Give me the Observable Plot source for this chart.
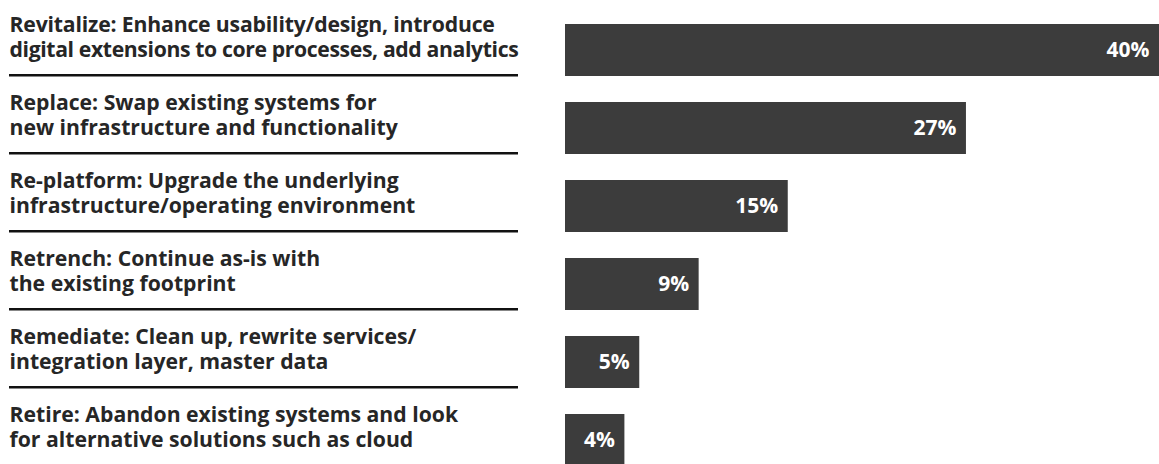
<!DOCTYPE html>
<html>
<head>
<meta charset="utf-8">
<script src="https://cdn.jsdelivr.net/npm/d3@7"></script>
<script src="https://cdn.jsdelivr.net/npm/@observablehq/plot@0.6"></script>
<style>
  html, body { margin: 0; padding: 0; background: #fff; overflow: hidden; }
  svg { display: block; }
</style>
</head>
<body>
<div id="chart"></div>
<script>
const categories = ["Revitalize", "Replace", "Re-platform", "Retrench", "Remediate", "Retire"];
const labels = [
  "Revitalize: Enhance usability/design, introduce\ndigital extensions to core processes, add analytics",
  "Replace: Swap existing systems for\nnew infrastructure and functionality",
  "Re-platform: Upgrade the underlying\ninfrastructure/operating environment",
  "Retrench: Continue as-is with\nthe existing footprint",
  "Remediate: Clean up, rewrite services/\nintegration layer, master data",
  "Retire: Abandon existing systems and look\nfor alternative solutions such as cloud"
];
const values = [40, 27, 15, 9, 5, 4];

const data = categories.map((c, i) => ({cat: c, label: labels[i], value: values[i]}));
const separators = categories.slice(0, -1);

const font = "'Open Sans', sans-serif";

const chart = Plot.plot({
  width: 1159,
  height: 468,
  marginLeft: 0,
  marginRight: 0,
  marginTop: 21,
  marginBottom: 0,
  style: {fontFamily: font, background: "#fff"},
  x: {domain: [0, 40], range: [565, 1159], axis: null},
  y: {domain: categories, paddingInner: 0.334, paddingOuter: 0, axis: null},
  marks: [
    Plot.barX(data, {y: "cat", x: "value", fill: "#3c3c3c"}),
    Plot.text(data, {
      y: "cat", x: "value", text: d => d.value + "%",
      textAnchor: "end", dx: -10, fill: "#ffffff",
      fontSize: 21, fontWeight: 700
    }),
    Plot.text(data, {
      y: "cat", text: "label", frameAnchor: "left", textAnchor: "start",
      dx: 9, dy: -13.6, lineHeight: 1.18,
      fill: "#262626", fontSize: 21.2, fontWeight: 700
    }),
    Plot.ruleY(separators, {
      y: d => d, dy: 24.7, stroke: "#111", strokeWidth: 2.6,
      insetLeft: 9, insetRight: 641
    })
  ]
});
document.getElementById("chart").appendChild(chart);

// the first label is set slightly tighter in the reference
d3.select(chart).selectAll("text").each(function () {
  if (this.textContent.startsWith("Revitalize:")) {
    const spans = this.querySelectorAll("tspan");
    if (spans[0]) spans[0].setAttribute("letter-spacing", "-0.17");
    if (spans[1]) spans[1].setAttribute("letter-spacing", "-0.37");
  }
});
</script>
</body>
</html>
